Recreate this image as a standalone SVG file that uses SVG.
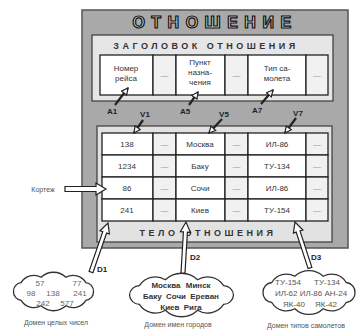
<svg xmlns="http://www.w3.org/2000/svg" width="357" height="334" viewBox="0 0 357 334">
<defs>
<style>
text{font-family:"Liberation Sans",Arial,sans-serif;fill:#333}
.cell{fill:#fff;stroke:#222;stroke-width:1.3}
.dots{fill:#f1f1f1;stroke:#222;stroke-width:1.3}
.ct{font-size:8px;text-anchor:middle}
.dt{font-size:8px;text-anchor:middle;fill:#999}
.lbl{font-size:8px;font-weight:bold;text-anchor:middle;fill:#222}
.band{font-size:9px;font-weight:bold;letter-spacing:3.5px;text-anchor:middle;fill:#333}
.cloud{fill:#fff;stroke:#333;stroke-width:1.3}
.cap{font-size:7px;text-anchor:middle;fill:#555}
.blk{fill:#fff;stroke:#222;stroke-width:1.2;stroke-linejoin:miter}
.ln{stroke:#222;stroke-width:2.2;fill:none}
.dv{font-size:8px;text-anchor:middle;fill:#666}
</style>
<marker id="ah" viewBox="0 0 10 10" refX="9" refY="5" markerWidth="8" markerHeight="8" markerUnits="userSpaceOnUse" orient="auto">
<path d="M1,1 L9,5 L1,9 Z" fill="#fff" stroke="#222" stroke-width="1.5"/>
</marker>
</defs>

<g id="relation">
<rect x="82" y="10" width="266" height="238" fill="#a9a9a9" stroke="#555" stroke-width="1.5"/>
<text x="215" y="28" font-size="16" font-weight="bold" letter-spacing="6.5" text-anchor="middle" style="fill:#cfcfcf;stroke:#111;stroke-width:1.2">ОТНОШЕНИЕ</text>
</g>

<g id="header">
<rect x="92" y="35" width="241" height="66" fill="#e6e6e6" stroke="#444" stroke-width="1.3"/>
<text class="band" x="206" y="49">ЗАГОЛОВОК ОТНОШЕНИЯ</text>
<rect class="cell" x="100" y="55" width="53" height="40"/>
<text class="ct" x="126" y="71">Номер</text><text class="ct" x="126" y="81">рейса</text>
<rect class="dots" x="153" y="55" width="23" height="40"/><text class="dt" x="164.5" y="78">—</text>
<rect class="cell" x="176" y="55" width="49" height="40"/>
<text class="ct" x="200" y="65">Пункт</text><text class="ct" x="200" y="75">назна-</text><text class="ct" x="200" y="85">чения</text>
<rect class="dots" x="225" y="55" width="23" height="40"/><text class="dt" x="236.5" y="78">—</text>
<rect class="cell" x="248" y="55" width="58" height="40"/>
<text class="ct" x="277" y="71">Тип са-</text><text class="ct" x="277" y="81">молета</text>
<rect class="dots" x="306" y="55" width="22" height="40"/><text class="dt" x="317" y="78">—</text>
</g>

<g id="body">
<rect x="97" y="126" width="235" height="116" fill="#e2e2e2" stroke="#444" stroke-width="1.3"/>
<text class="band" x="208" y="236">ТЕЛО ОТНОШЕНИЯ</text>
<g id="row1">
<rect class="cell" x="102" y="133" width="51" height="22"/><text class="ct" x="127" y="147">138</text>
<rect class="dots" x="153" y="133" width="23" height="22"/><text class="dt" x="164.5" y="147">—</text>
<rect class="cell" x="176" y="133" width="49" height="22"/><text class="ct" x="200" y="147">Москва</text>
<rect class="dots" x="225" y="133" width="23" height="22"/><text class="dt" x="236.5" y="147">—</text>
<rect class="cell" x="248" y="133" width="58" height="22"/><text class="ct" x="277" y="147">ИЛ-86</text>
<rect class="dots" x="306" y="133" width="22" height="22"/><text class="dt" x="317" y="147">—</text>
</g>
<g id="row2">
<rect class="cell" x="102" y="155" width="51" height="22"/><text class="ct" x="127" y="169">1234</text>
<rect class="dots" x="153" y="155" width="23" height="22"/><text class="dt" x="164.5" y="169">—</text>
<rect class="cell" x="176" y="155" width="49" height="22"/><text class="ct" x="200" y="169">Баку</text>
<rect class="dots" x="225" y="155" width="23" height="22"/><text class="dt" x="236.5" y="169">—</text>
<rect class="cell" x="248" y="155" width="58" height="22"/><text class="ct" x="277" y="169">ТУ-134</text>
<rect class="dots" x="306" y="155" width="22" height="22"/><text class="dt" x="317" y="169">—</text>
</g>
<g id="row3">
<rect class="cell" x="102" y="177" width="51" height="22"/><text class="ct" x="127" y="191">86</text>
<rect class="dots" x="153" y="177" width="23" height="22"/><text class="dt" x="164.5" y="191">—</text>
<rect class="cell" x="176" y="177" width="49" height="22"/><text class="ct" x="200" y="191">Сочи</text>
<rect class="dots" x="225" y="177" width="23" height="22"/><text class="dt" x="236.5" y="191">—</text>
<rect class="cell" x="248" y="177" width="58" height="22"/><text class="ct" x="277" y="191">ИЛ-86</text>
<rect class="dots" x="306" y="177" width="22" height="22"/><text class="dt" x="317" y="191">—</text>
</g>
<g id="row4">
<rect class="cell" x="102" y="199" width="51" height="22"/><text class="ct" x="127" y="213">241</text>
<rect class="dots" x="153" y="199" width="23" height="22"/><text class="dt" x="164.5" y="213">—</text>
<rect class="cell" x="176" y="199" width="49" height="22"/><text class="ct" x="200" y="213">Киев</text>
<rect class="dots" x="225" y="199" width="23" height="22"/><text class="dt" x="236.5" y="213">—</text>
<rect class="cell" x="248" y="199" width="58" height="22"/><text class="ct" x="277" y="213">ТУ-154</text>
<rect class="dots" x="306" y="199" width="22" height="22"/><text class="dt" x="317" y="213">—</text>
</g>
</g>

<g id="domain1">
<path class="cloud" d="M93.5,291.5 A8.4,8.4 0 0 1 85.9,300.3 A15,15 0 0 1 65.9,305.8 A18,18 0 0 1 41.1,305.8 A15,15 0 0 1 21.1,300.3 A8.4,8.4 0 0 1 13.5,291.5 A8.4,8.4 0 0 1 21.1,282.7 A15,15 0 0 1 41.1,277.2 A18,18 0 0 1 65.9,277.2 A15,15 0 0 1 85.9,282.7 A8.4,8.4 0 0 1 93.5,291.5 Z"/>
<text class="dv" x="40" y="286">57</text><text class="dv" x="77" y="286">77</text>
<text class="dv" x="31" y="296">98</text><text class="dv" x="53" y="296">138</text><text class="dv" x="80" y="296">241</text>
<text class="dv" x="43" y="306">242</text><text class="dv" x="67" y="306">577</text>
<text class="cap" x="56" y="325">Домен целых чисел</text>
</g>

<g id="domain2">
<path class="cloud" d="M233.5,295 A10,10 0 0 1 223.6,304.4 A19,19 0 0 1 197.6,310.2 A23,23 0 0 1 165.4,310.2 A19,19 0 0 1 139.4,304.4 A10,10 0 0 1 129.5,295 A10,10 0 0 1 139.4,285.6 A19,19 0 0 1 165.4,279.8 A23,23 0 0 1 197.6,279.8 A19,19 0 0 1 223.6,285.6 A10,10 0 0 1 233.5,295 Z"/>
<text class="ct" x="181" y="288" font-weight="bold" word-spacing="3">Москва Минск</text>
<text class="ct" x="181" y="299" font-weight="bold" word-spacing="2">Баку Сочи Ереван</text>
<text class="ct" x="181" y="310" font-weight="bold" word-spacing="2">Киев Рига</text>
<text class="cap" x="178" y="327">Домен имен городов</text>
</g>

<g id="domain3">
<path class="cloud" d="M355,292.5 A9.6,9.6 0 0 1 346.2,302.5 A17,17 0 0 1 323.2,308.7 A20.5,20.5 0 0 1 294.8,308.7 A17,17 0 0 1 271.8,302.5 A9.6,9.6 0 0 1 263,292.5 A9.6,9.6 0 0 1 271.8,282.5 A17,17 0 0 1 294.8,276.3 A20.5,20.5 0 0 1 323.2,276.3 A17,17 0 0 1 346.2,282.5 A9.6,9.6 0 0 1 355,292.5 Z"/>
<text class="dv" x="288" y="285" style="fill:#555">ТУ-154</text><text class="dv" x="327" y="285" style="fill:#555">ТУ-134</text>
<text class="dv" x="311" y="296" style="fill:#555">ИЛ-62 ИЛ-86 АН-24</text>
<text class="dv" x="294" y="307" style="fill:#555">ЯК-40</text><text class="dv" x="326" y="307" style="fill:#555">ЯК-42</text>
<text class="cap" x="306" y="328">Домен типов самолетов</text>
</g>

<g id="tuple-label">
<text x="43" y="192" font-size="7" text-anchor="middle" style="fill:#555">Кортеж</text>
</g>

<g id="connectors">
<line class="ln" x1="115" y1="105" x2="128" y2="88" marker-end="url(#ah)"/>
<line class="ln" x1="189" y1="105" x2="198" y2="92" marker-end="url(#ah)"/>
<line class="ln" x1="261" y1="104" x2="273" y2="90" marker-end="url(#ah)"/>
<line class="ln" x1="143" y1="120" x2="134" y2="133" marker-end="url(#ah)"/>
<line class="ln" x1="222" y1="119" x2="209" y2="133" marker-end="url(#ah)"/>
<line class="ln" x1="296" y1="118" x2="285" y2="133" marker-end="url(#ah)"/>
<polygon class="blk" points="65,186.5 96,186.5 96,183 106,189 96,195 96,191.5 65,191.5"/>
<polygon class="blk" points="92.9,272.7 106.6,233.1 109.4,234 108,223 100,230.8 102.8,231.7 89.1,271.3"/>
<polygon class="blk" points="185,273.1 187.4,232.1 190.4,232.3 186,222 180.4,231.7 183.4,231.9 181,272.9"/>
<polygon class="blk" points="311.9,267.4 300,230.9 302.9,230 295,222 293.4,233.1 296.2,232.1 308.1,268.6"/>
<text class="lbl" x="112" y="114">A1</text>
<text class="lbl" x="185" y="114">A5</text>
<text class="lbl" x="257" y="113">A7</text>
<text class="lbl" x="145" y="117">V1</text>
<text class="lbl" x="224" y="117">V5</text>
<text class="lbl" x="298" y="116">V7</text>
<text class="lbl" x="102" y="272">D1</text>
<text class="lbl" x="195" y="260">D2</text>
<text class="lbl" x="316" y="260">D3</text>
</g>
</svg>
